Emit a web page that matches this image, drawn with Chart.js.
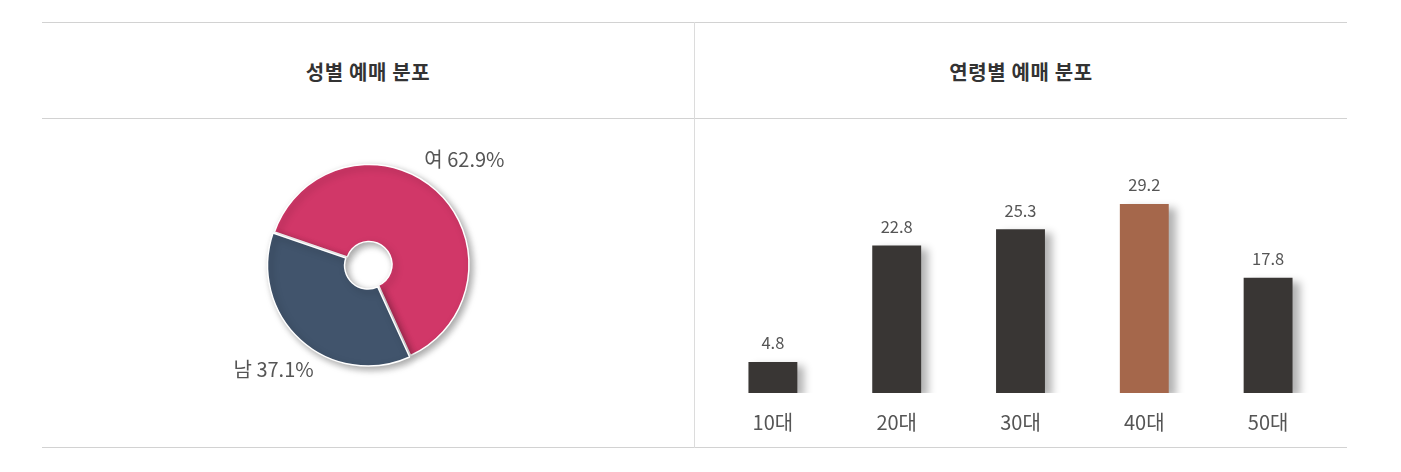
<!DOCTYPE html>
<html><head><meta charset="utf-8">
<script src="https://cdn.jsdelivr.net/npm/chart.js@4"></script>
<style>
html,body{margin:0;padding:0;background:#fff;width:1401px;height:472px;overflow:hidden;font-family:"Noto Sans CJK KR","Noto Sans",sans-serif;}
.line{position:absolute;background:#d2d2d2;}
.title{position:absolute;top:52px;height:40px;line-height:40px;text-align:center;font-size:20px;letter-spacing:0.6px;font-weight:bold;color:#333;}
.box{position:absolute;top:119px;width:652px;height:328px;}
</style></head>
<body>
<div class="line" style="left:42px;top:22px;width:1305px;height:1px;"></div>
<div class="line" style="left:42px;top:118px;width:1305px;height:1px;"></div>
<div class="line" style="left:42px;top:447px;width:1305px;height:1px;"></div>
<div class="line" style="left:694px;top:22px;width:1px;height:426px;background:#dcdcdc;"></div>
<div class="title" style="left:42px;width:652px;">성별 예매 분포</div>
<div class="title" style="left:695px;width:652px;">연령별 예매 분포</div>
<div class="box" style="left:42px;"><canvas id="pie" width="652" height="328"></canvas></div>
<div class="box" style="left:695px;"><canvas id="bar" width="652" height="328"></canvas></div>
<script>
const genderLabels = ['여', '남'];
const genderValues = [62.9, 37.1];
const genderColors = ['#d13768', '#41546c'];

const ageLabels = ['10대', '20대', '30대', '40대', '50대'];
const ageValues = [4.8, 22.8, 25.3, 29.2, 17.8];
const ageColors = ['#393634', '#393634', '#393634', '#a5674b', '#393634'];

const shadowPlugin = {
  id: 'shadow',
  beforeDatasetsDraw(chart, args, opts) {
    const c = chart.ctx;
    c.save();
    c.shadowColor = opts.color;
    c.shadowBlur = opts.blur;
    c.shadowOffsetX = opts.x;
    c.shadowOffsetY = opts.y;
  },
  afterDatasetsDraw(chart) { chart.ctx.restore(); }
};

const pieLabelPlugin = {
  id: 'pieLabels',
  afterDraw(chart) {
    const c = chart.ctx;
    const meta = chart.getDatasetMeta(0);
    c.save();
    c.font = '20px "Noto Sans CJK KR", "Noto Sans", sans-serif';
    c.fillStyle = '#555';
    c.textAlign = 'center';
    c.textBaseline = 'middle';
    meta.data.forEach((arc, i) => {
      const p = arc.getProps(['x', 'y', 'startAngle', 'endAngle', 'outerRadius'], true);
      const mid = (p.startAngle + p.endAngle) / 2;
      const r = p.outerRadius + 42;
      c.fillText(genderLabels[i] + ' ' + genderValues[i].toFixed(1) + '%', p.x + Math.cos(mid) * r, p.y + Math.sin(mid) * r);
    });
    c.restore();
  }
};

new Chart(document.getElementById('pie'), {
  type: 'doughnut',
  data: { labels: genderLabels, datasets: [{ data: genderValues, backgroundColor: genderColors, borderColor: '#fff', borderWidth: 1.5, offset: [0, 6], hoverOffset: 0 }] },
  options: {
    responsive: false, animation: false, events: [],
    radius: 100, cutout: '23%', rotation: -71,
    layout: { padding: { left: 2, right: 0, top: 0, bottom: 37 } },
    plugins: { legend: { display: false }, tooltip: { enabled: false },
      shadow: { color: 'rgba(0,0,0,0.35)', blur: 7, x: 3, y: 3 } }
  },
  plugins: [shadowPlugin, pieLabelPlugin]
});

const barValuePlugin = {
  id: 'barValues',
  afterDraw(chart) {
    const c = chart.ctx;
    const meta = chart.getDatasetMeta(0);
    c.save();
    c.font = '16.5px "Noto Sans CJK KR", "Noto Sans", sans-serif';
    c.fillStyle = '#555';
    c.textAlign = 'center';
    c.textBaseline = 'middle';
    meta.data.forEach((bar, i) => {
      c.fillText(ageValues[i].toFixed(1), bar.x, bar.y - 19);
    });
    c.restore();
  }
};

new Chart(document.getElementById('bar'), {
  type: 'bar',
  data: { labels: ageLabels, datasets: [{ data: ageValues, backgroundColor: ageColors, borderWidth: 0, barPercentage: 0.395, categoryPercentage: 1 }] },
  options: {
    responsive: false, animation: false, events: [],
    layout: { padding: { left: 16, right: 17, top: 47.5, bottom: 0 } },
    scales: {
      y: { display: false, min: 0, max: 35 },
      x: {
        grid: { display: false, drawTicks: false },
        border: { display: false },
        ticks: { color: '#555', padding: 17, font: { size: 20, family: '"Noto Sans CJK KR", "Noto Sans", sans-serif' } },
        afterFit(scale) { scale.height = 54; }
      }
    },
    plugins: { legend: { display: false }, tooltip: { enabled: false },
      shadow: { color: 'rgba(0,0,0,0.3)', blur: 8, x: 7, y: 4 } }
  },
  plugins: [shadowPlugin, barValuePlugin]
});
</script>
</body></html>
